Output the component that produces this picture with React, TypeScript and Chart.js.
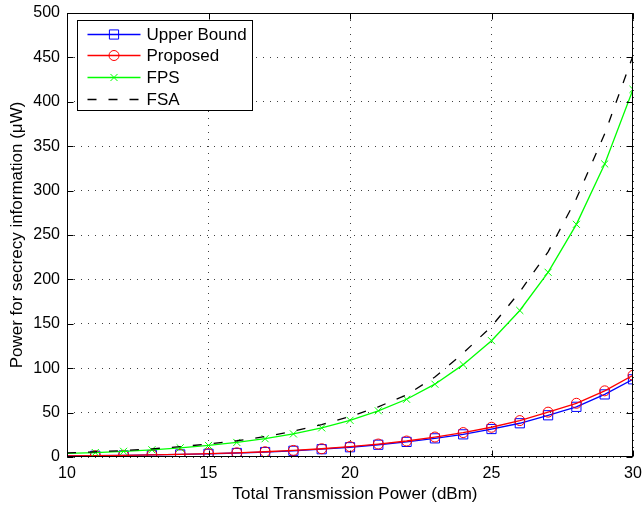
import React, { useEffect, useRef } from 'react';
import { Chart, registerables } from 'chart.js';

Chart.register(...registerables);

const FONT = '"Liberation Sans", Arial, Helvetica, sans-serif';

const xValues = [10, 11, 12, 13, 14, 15, 16, 17, 18, 19, 20, 21, 22, 23, 24, 25, 26, 27, 28, 29, 30];
const upperBound = [1.1, 1.4, 1.8, 2.3, 2.9, 3.6, 4.5, 5.6, 7.0, 8.8, 11.0, 13.8, 17.0, 21.0, 25.5, 31.5, 38.0, 47.0, 56.5, 70.5, 87.5];
const proposed = [1.2, 1.5, 1.9, 2.4, 3.0, 3.8, 4.7, 5.9, 7.4, 9.3, 11.7, 14.6, 18.0, 22.5, 27.5, 33.5, 41.0, 50.5, 60.5, 74.5, 92.0];
const fps = [4.0, 5.0, 6.4, 8.1, 10.3, 13.0, 16.4, 20.6, 26.0, 32.8, 41.3, 52.0, 65.0, 82.0, 104, 131, 165, 208, 262, 330, 414];
const fsa = [4.6, 5.8, 7.3, 9.2, 11.6, 14.6, 18.3, 23.0, 29.0, 36.5, 45.5, 56.5, 70.0, 90.0, 117, 147, 186, 231, 291, 364, 452];

const seriesLabels = ['Upper Bound', 'Proposed', 'FPS', 'FSA'];
const xTitle = 'Total Transmission Power (dBm)';
const yTitle = 'Power for secrecy information (\u03bcW)';
const xMin = 10, xMax = 30, xStep = 5;
const yMin = 0, yMax = 500, yStep = 50;

function toPoints(ys: number[]) {
  return xValues.map((x, i) => ({ x, y: ys[i] }));
}
function radii(r: number) {
  return xValues.map((_, i) => (i === 0 ? 0 : r));
}

function drawMarker(ctx: CanvasRenderingContext2D, style: string, x: number, y: number, r: number, color: string) {
  ctx.save();
  ctx.strokeStyle = color;
  ctx.lineWidth = 1;
  ctx.setLineDash([]);
  ctx.beginPath();
  if (style === 'rect') {
    const s = Math.SQRT1_2 * r;
    ctx.rect(x - s, y - s, 2 * s, 2 * s);
  } else if (style === 'circle') {
    ctx.arc(x, y, r, 0, Math.PI * 2);
  } else if (style === 'crossRot') {
    const s = Math.SQRT1_2 * r;
    ctx.moveTo(x - s, y - s);
    ctx.lineTo(x + s, y + s);
    ctx.moveTo(x - s, y + s);
    ctx.lineTo(x + s, y - s);
  }
  ctx.stroke();
  ctx.restore();
}

const framePlugin = {
  id: 'matlabFrame',
  afterDraw(chart: any) {
    const ctx: CanvasRenderingContext2D = chart.ctx;
    const { left, right, top, bottom } = chart.chartArea;
    const xs = chart.scales.x;
    const ys = chart.scales.y;
    const tick = 6;
    ctx.save();
    ctx.strokeStyle = '#000';
    ctx.lineWidth = 1;
    ctx.setLineDash([]);
    const L = Math.round(left) + 0.5, R = Math.round(right) - 0.5, T = Math.round(top) + 0.5, B = Math.round(bottom) - 0.5;
    ctx.beginPath();
    xs.ticks.forEach((t: any) => {
      const px = Math.round(xs.getPixelForValue(t.value)) + 0.5;
      ctx.moveTo(px, B); ctx.lineTo(px, B - tick);
      ctx.moveTo(px, T); ctx.lineTo(px, T + tick);
    });
    ys.ticks.forEach((t: any) => {
      const py = Math.round(ys.getPixelForValue(t.value)) + 0.5;
      ctx.moveTo(L, py); ctx.lineTo(L + tick, py);
      ctx.moveTo(R, py); ctx.lineTo(R - tick, py);
    });
    ctx.stroke();
    ctx.strokeRect(L, T, R - L, B - T);

    // axis titles
    ctx.fillStyle = '#000';
    ctx.font = `17px ${FONT}`;
    ctx.textAlign = 'center';
    ctx.textBaseline = 'middle';
    ctx.fillText(xTitle, (left + right) / 2 + 5, 494);
    ctx.save();
    ctx.translate(17, (top + bottom) / 2);
    ctx.rotate(-Math.PI / 2);
    ctx.fillText(yTitle, 0, 0);
    ctx.restore();

    // legend
    const bx = Math.round(left) + 10.5, by = Math.round(top) + 7.5, bw = 175, bh = 90;
    ctx.fillStyle = '#fff';
    ctx.fillRect(bx, by, bw, bh);
    ctx.strokeStyle = '#000';
    ctx.strokeRect(bx, by, bw, bh);
    const rows = [13, 34.5, 56, 78];
    const ds = chart.data.datasets;
    ds.forEach((d: any, i: number) => {
      const cy = Math.round(by + rows[i]) + 0.5;
      const x0 = bx + 10, x1 = bx + 63;
      ctx.save();
      ctx.strokeStyle = d.borderColor;
      ctx.lineWidth = d.borderWidth || 1;
      ctx.setLineDash(d.borderDash || []);
      ctx.beginPath();
      ctx.moveTo(x0, cy);
      ctx.lineTo(x1, cy);
      ctx.stroke();
      ctx.restore();
      if (d.legendMarker) {
        drawMarker(ctx, d.pointStyle, (x0 + x1) / 2, cy, d.legendMarker, d.borderColor);
      }
      ctx.fillStyle = '#000';
      ctx.font = `17px ${FONT}`;
      ctx.textAlign = 'left';
      ctx.textBaseline = 'middle';
      ctx.fillText(d.label, bx + 69, cy + 1);
    });
    ctx.restore();
  },
};

export default function App() {
  const ref = useRef<HTMLCanvasElement | null>(null);
  useEffect(() => {
    if (!ref.current) return;
    const chart = new Chart(ref.current, {
      type: 'line',
      data: {
        datasets: [
          {
            label: seriesLabels[0],
            data: toPoints(upperBound),
            borderColor: '#0000ff',
            backgroundColor: 'rgba(0,0,0,0)',
            pointStyle: 'rect',
            pointRadius: radii(6.5),
            pointBorderColor: '#0000ff',
            pointBackgroundColor: 'rgba(0,0,0,0)',
            pointBorderWidth: 1,
            borderWidth: 1.3,
            order: 4,
            legendMarker: 6.5,
          } as any,
          {
            label: seriesLabels[1],
            data: toPoints(proposed),
            borderColor: '#ff0000',
            backgroundColor: 'rgba(0,0,0,0)',
            pointStyle: 'circle',
            pointRadius: radii(5),
            pointBorderColor: '#ff0000',
            pointBackgroundColor: 'rgba(0,0,0,0)',
            pointBorderWidth: 1,
            borderWidth: 1.3,
            order: 3,
            legendMarker: 5,
          } as any,
          {
            label: seriesLabels[2],
            data: toPoints(fps),
            borderColor: '#00ff00',
            backgroundColor: 'rgba(0,0,0,0)',
            pointStyle: 'crossRot',
            pointRadius: radii(5),
            pointBorderColor: '#00ff00',
            pointBackgroundColor: 'rgba(0,0,0,0)',
            pointBorderWidth: 1,
            borderWidth: 1.3,
            order: 2,
            legendMarker: 5,
          } as any,
          {
            label: seriesLabels[3],
            data: toPoints(fsa),
            borderColor: '#000000',
            backgroundColor: 'rgba(0,0,0,0)',
            borderDash: [9, 12],
            pointRadius: 0,
            borderWidth: 1.3,
            order: 1,
            legendMarker: 0,
          } as any,
        ],
      },
      options: {
        animation: false,
        responsive: false,
        devicePixelRatio: 1,
        layout: { padding: { top: 13, right: 9, left: 0, bottom: 0 } },
        elements: { line: { tension: 0 } },
        plugins: { legend: { display: false }, tooltip: { enabled: false } },
        scales: {
          x: {
            type: 'linear',
            min: xMin,
            max: xMax,
            ticks: { stepSize: xStep, color: '#000', font: { family: FONT, size: 16 }, padding: 7, maxRotation: 0 },
            grid: { color: 'rgba(0,0,0,0.75)', drawTicks: false, lineWidth: 1 },
            border: { display: false, dash: [1, 6] },
            afterFit: (s: any) => { s.height = 49; s.paddingLeft = 0; s.paddingRight = 0; },
          },
          y: {
            type: 'linear',
            min: yMin,
            max: yMax,
            ticks: { stepSize: yStep, color: '#000', font: { family: FONT, size: 16 }, padding: 7 },
            grid: { color: 'rgba(0,0,0,0.75)', drawTicks: false, lineWidth: 1 },
            border: { display: false, dash: [1, 6] },
            afterFit: (s: any) => { s.width = 67; s.paddingTop = 0; s.paddingBottom = 0; },
          },
        },
      } as any,
      plugins: [framePlugin],
    });
    return () => chart.destroy();
  }, []);
  return (
    <div style={{ position: 'absolute', left: 0, top: 0, width: 642, height: 506, background: '#fff' }}>
      <canvas ref={ref} width={642} height={506} style={{ display: 'block' }} />
    </div>
  );
}
